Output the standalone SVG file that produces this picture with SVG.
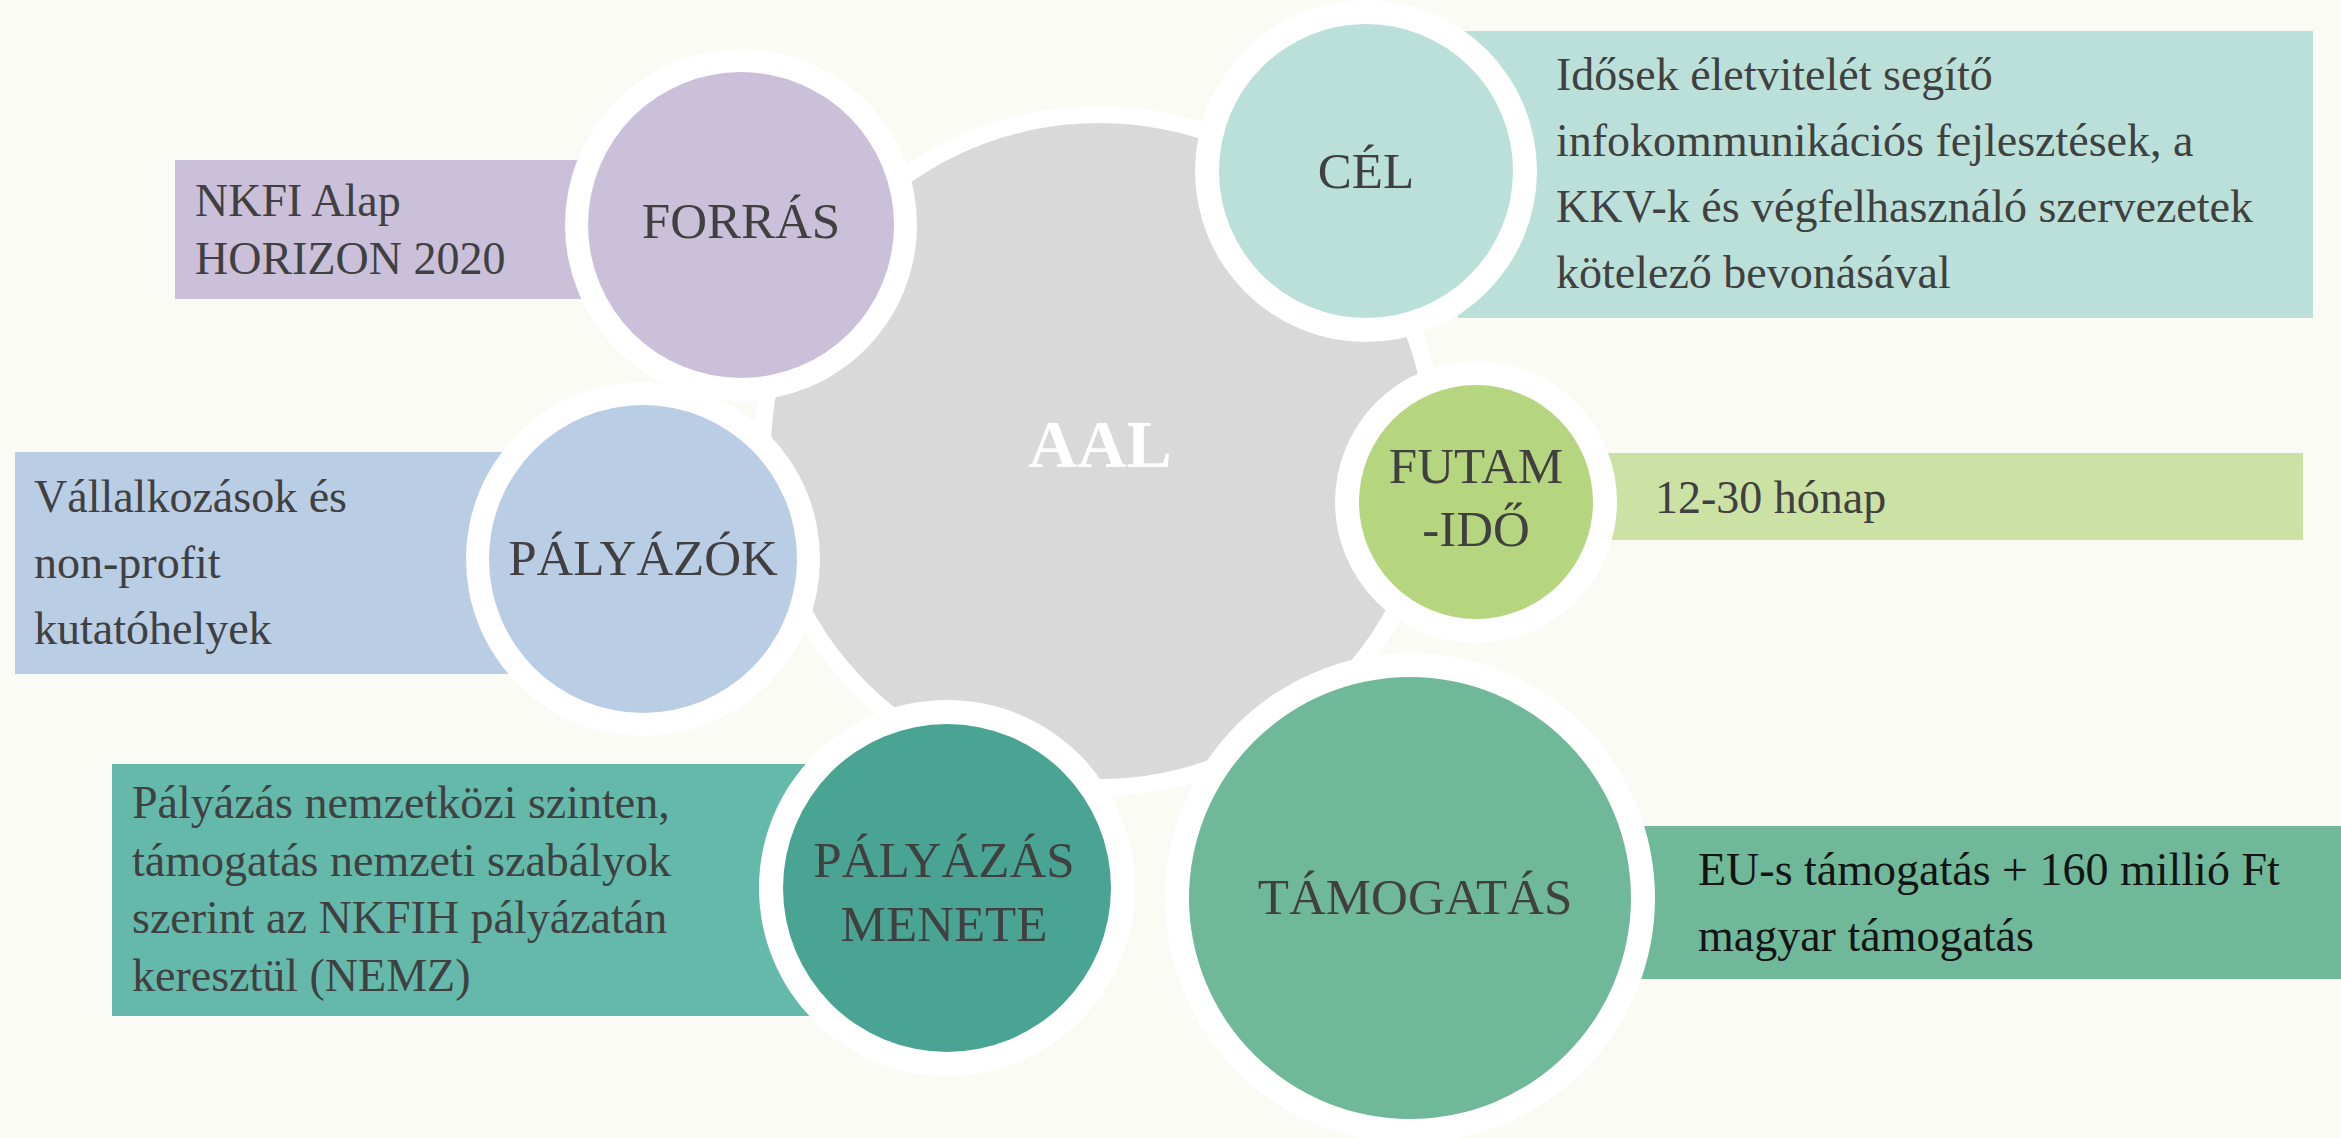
<svg xmlns="http://www.w3.org/2000/svg" width="2341" height="1138" viewBox="0 0 2341 1138">
<style>
.ring{fill:#FFFFFF}
.lbl{font-family:'Liberation Serif',serif;font-size:51px;fill:#404040;text-anchor:middle}
.desc{font-family:'Liberation Serif',serif;font-size:46px;fill:#404040}
.dark{fill:#141414}
.hub{font-family:'Liberation Serif',serif;font-size:68px;font-weight:bold;fill:#FFFFFF;text-anchor:middle}
</style>
<rect x="0" y="0" width="2341" height="1138" fill="#FAFBF5"/>
<g id="connectors"></g>
<g id="hub-aal">
<circle class="ring" cx="1099" cy="451" r="345"/>
<circle cx="1099" cy="451" r="328" fill="#D9D9D9"/>
<text class="hub" x="1100" y="467" font-family="Liberation Serif, serif">AAL</text>
</g>
<g id="node-forras" font-family="Liberation Serif, serif">
<rect x="175" y="160" width="520" height="139" fill="#CAC0DA"/>
<text class="desc" x="195" y="216">NKFI Alap</text>
<text class="desc" x="195" y="274">HORIZON 2020</text>
<circle class="ring" cx="741" cy="225" r="176"/>
<circle cx="741" cy="225" r="153" fill="#CAC0DA"/>
<text class="lbl" x="741" y="238">FORRÁS</text>
</g>
<g id="node-palyazok" font-family="Liberation Serif, serif">
<rect x="15" y="452" width="620" height="222" fill="#B9CDE5"/>
<text class="desc" x="34" y="512">Vállalkozások és</text>
<text class="desc" x="34" y="578">non-profit</text>
<text class="desc" x="34" y="644">kutatóhelyek</text>
<circle class="ring" cx="643" cy="559" r="177"/>
<circle cx="643" cy="559" r="154" fill="#B9CDE5"/>
<text class="lbl" x="643" y="575">PÁLYÁZÓK</text>
</g>
<g id="node-cel" font-family="Liberation Serif, serif">
<rect x="1458" y="31" width="855" height="287" fill="#BBE0D9"/>
<text class="desc" x="1556" y="90">Idősek életvitelét segítő</text>
<text class="desc" x="1556" y="156">infokommunikációs fejlesztések, a</text>
<text class="desc" x="1556" y="222">KKV-k és végfelhasználó szervezetek</text>
<text class="desc" x="1556" y="288">kötelező bevonásával</text>
<circle class="ring" cx="1366" cy="171" r="171"/>
<circle cx="1366" cy="171" r="147" fill="#BBE0D9"/>
<text class="lbl" x="1366" y="188">CÉL</text>
</g>
<g id="node-futamido" font-family="Liberation Serif, serif">
<rect x="1500" y="453" width="803" height="87" fill="#CCE2A5"/>
<text class="desc" x="1655" y="513">12-30 hónap</text>
<circle class="ring" cx="1476" cy="502" r="141"/>
<circle cx="1476" cy="502" r="117" fill="#B6D57F"/>
<text class="lbl" x="1476" y="483">FUTAM</text>
<text class="lbl" x="1476" y="546">-IDŐ</text>
</g>
<g id="node-tamogatas" font-family="Liberation Serif, serif">
<rect x="1500" y="826" width="841" height="153" fill="#6FB99A"/>
<text class="desc dark" x="1698" y="885">EU-s támogatás + 160 millió Ft</text>
<text class="desc dark" x="1698" y="951">magyar támogatás</text>
<circle class="ring" cx="1410" cy="898" r="245"/>
<circle cx="1410" cy="898" r="221" fill="#6FB99A"/>
<text class="lbl" x="1415" y="914">TÁMOGATÁS</text>
</g>
<g id="node-palyazas-menete" font-family="Liberation Serif, serif">
<rect x="112" y="764" width="760" height="252" fill="#64B9AB"/>
<text class="desc" x="132" y="818">Pályázás nemzetközi szinten,</text>
<text class="desc" x="132" y="876">támogatás nemzeti szabályok</text>
<text class="desc" x="132" y="933">szerint az NKFIH pályázatán</text>
<text class="desc" x="132" y="991">keresztül (NEMZ)</text>
<circle class="ring" cx="947" cy="888" r="188"/>
<circle cx="947" cy="888" r="164" fill="#4AA494"/>
<text class="lbl" x="944" y="877">PÁLYÁZÁS</text>
<text class="lbl" x="944" y="941">MENETE</text>
</g>
</svg>
